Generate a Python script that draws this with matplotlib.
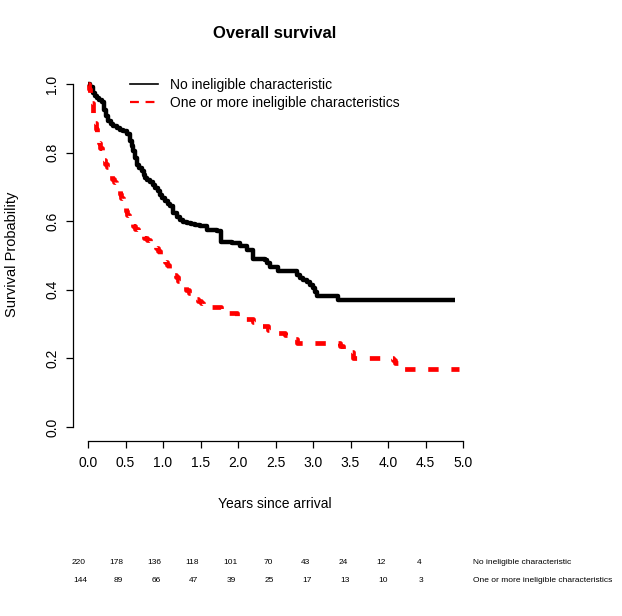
import numpy as np
import matplotlib.pyplot as plt
from matplotlib.lines import Line2D

plt.rcParams["font.family"] = ["Liberation Sans", "DejaVu Sans"]

# Kaplan-Meier estimates (years, survival)
time_no = [0.0, 0.027, 0.062, 0.09, 0.116, 0.15, 0.183, 0.213, 0.24, 0.271,
           0.30, 0.338, 0.38, 0.427, 0.47, 0.516, 0.56, 0.58, 0.604, 0.625,
           0.649, 0.68, 0.716, 0.74, 0.76, 0.79, 0.827, 0.86, 0.893, 0.93,
           0.96, 0.99, 1.027, 1.06, 1.093, 1.138, 1.19, 1.227, 1.27, 1.316,
           1.37, 1.427, 1.493, 1.58, 1.716, 1.77, 1.916, 2.027, 2.116, 2.196,
           2.36, 2.39, 2.427, 2.538, 2.782, 2.827, 2.87, 2.916, 2.96, 3.004,
           3.03, 3.049, 3.338, 4.89]
surv_no = [1.0, 0.992, 0.974, 0.965, 0.959, 0.953, 0.947, 0.925, 0.908, 0.891,
           0.884, 0.877, 0.872, 0.867, 0.862, 0.855, 0.835, 0.820, 0.804, 0.785,
           0.765, 0.755, 0.745, 0.735, 0.726, 0.720, 0.714, 0.706, 0.697, 0.687,
           0.677, 0.668, 0.658, 0.650, 0.643, 0.623, 0.613, 0.604, 0.599, 0.595,
           0.592, 0.590, 0.585, 0.575, 0.572, 0.540, 0.535, 0.527, 0.515, 0.489,
           0.487, 0.477, 0.467, 0.456, 0.444, 0.434, 0.429, 0.424, 0.414, 0.404,
           0.393, 0.382, 0.370, 0.370]

time_inel = [0.0, 0.01, 0.025, 0.04, 0.05, 0.06, 0.07, 0.08, 0.093, 0.105,
             0.12, 0.135, 0.151, 0.165, 0.18, 0.19, 0.204, 0.225, 0.25, 0.275,
             0.302, 0.325, 0.35, 0.375, 0.404, 0.42, 0.44, 0.46, 0.484, 0.50,
             0.52, 0.54, 0.56, 0.595, 0.63, 0.665, 0.702, 0.74, 0.78, 0.825,
             0.871, 0.90, 0.93, 0.96, 0.996, 1.02, 1.05, 1.08, 1.107, 1.14,
             1.17, 1.205, 1.24, 1.275, 1.31, 1.345, 1.38, 1.42, 1.46, 1.50,
             1.537, 1.65, 1.773, 1.88, 1.98, 2.09, 2.20, 2.30, 2.40, 2.52,
             2.63, 2.70, 2.78, 3.36, 3.40, 3.45, 3.53, 4.07, 4.09, 4.20, 4.94]
surv_inel = [1.0, 0.986, 0.972, 0.958, 0.944, 0.930, 0.916, 0.902, 0.885, 0.870,
             0.856, 0.842, 0.827, 0.813, 0.800, 0.789, 0.778, 0.767, 0.757, 0.746,
             0.735, 0.724, 0.713, 0.702, 0.691, 0.680, 0.667, 0.654, 0.642, 0.630,
             0.618, 0.606, 0.594, 0.585, 0.577, 0.569, 0.560, 0.552, 0.545, 0.538,
             0.531, 0.521, 0.512, 0.502, 0.492, 0.482, 0.472, 0.462, 0.453, 0.444,
             0.436, 0.427, 0.419, 0.410, 0.400, 0.390, 0.380, 0.374, 0.368, 0.362,
             0.356, 0.349, 0.341, 0.331, 0.322, 0.315, 0.307, 0.295, 0.283, 0.275,
             0.268, 0.256, 0.244, 0.236, 0.227, 0.218, 0.200, 0.195, 0.186, 0.169,
             0.169]

group_labels = ["No ineligible characteristic", "One or more ineligible characteristics"]
risk_no = [220, 178, 136, 118, 101, 70, 43, 24, 12, 4]
risk_inel = [144, 89, 66, 47, 39, 25, 17, 13, 10, 3]

x_ticks = [0.0, 0.5, 1.0, 1.5, 2.0, 2.5, 3.0, 3.5, 4.0, 4.5, 5.0]
y_ticks = [0.0, 0.2, 0.4, 0.6, 0.8, 1.0]

W, H = 622, 616
fig = plt.figure(figsize=(W / 100, H / 100), dpi=100)
ax = fig.add_axes([73 / W, 1 - 440.7 / H, 405 / W, 370.4 / H])

ax.plot(time_no, surv_no, drawstyle="steps-post", color="black", lw=3.2,
        solid_capstyle="butt")
ax.plot(time_inel, surv_inel, drawstyle="steps-post", color="red", lw=3.4,
        dashes=(2.2, 2.7))

ax.set_xlim(-0.2, 5.2)
ax.set_ylim(-0.04, 1.04)
ax.spines["top"].set_visible(False)
ax.spines["right"].set_visible(False)
ax.spines["left"].set_bounds(0, 1)
ax.spines["bottom"].set_bounds(0, 5)
ax.set_xticks(x_ticks)
ax.set_xticklabels([f"{v:.1f}" for v in x_ticks])
ax.set_yticks(y_ticks)
ax.set_yticklabels([f"{v:.1f}" for v in y_ticks], rotation=90, va="center")
ax.tick_params(direction="out", length=5, width=0.9, labelsize=10, pad=6)
ax.tick_params(axis="y", pad=5)
for s in ax.spines.values():
    s.set_linewidth(0.9)

fig.text(275 / W, 1 - 34 / H, "Overall survival", ha="center", va="center",
         fontsize=12, fontweight="bold")
fig.text(275 / W, 1 - 504 / H, "Years since arrival", ha="center", va="center",
         fontsize=10)
fig.text(12 / W, 1 - 254 / H, "Survival Probability", ha="center", va="center",
         fontsize=10.5, rotation=90)

handles = [Line2D([], [], color="black", lw=1.2),
           Line2D([], [], color="red", lw=1.6, dashes=(4, 3))]
fig.legend(handles, group_labels, loc="upper left",
           bbox_to_anchor=(130 / W, 1 - 78 / H), frameon=False, fontsize=10,
           handlelength=2.0, handletextpad=0.9, labelspacing=0.28,
           borderaxespad=0, borderpad=0)

# number at risk table
for i, (a, b) in enumerate(zip(risk_no, risk_inel)):
    xp = (79 + 37.8 * i) / W
    fig.text(xp, 1 - 562 / H, str(a), ha="center", va="center", fontsize=6)
    fig.text(xp + 1.5 / W, 1 - 580 / H, str(b), ha="center", va="center", fontsize=6)
fig.text(473 / W, 1 - 562 / H, group_labels[0], ha="left", va="center", fontsize=6)
fig.text(473 / W, 1 - 580 / H, group_labels[1], ha="left", va="center", fontsize=6)

fig.savefig("out.png", dpi=100)
